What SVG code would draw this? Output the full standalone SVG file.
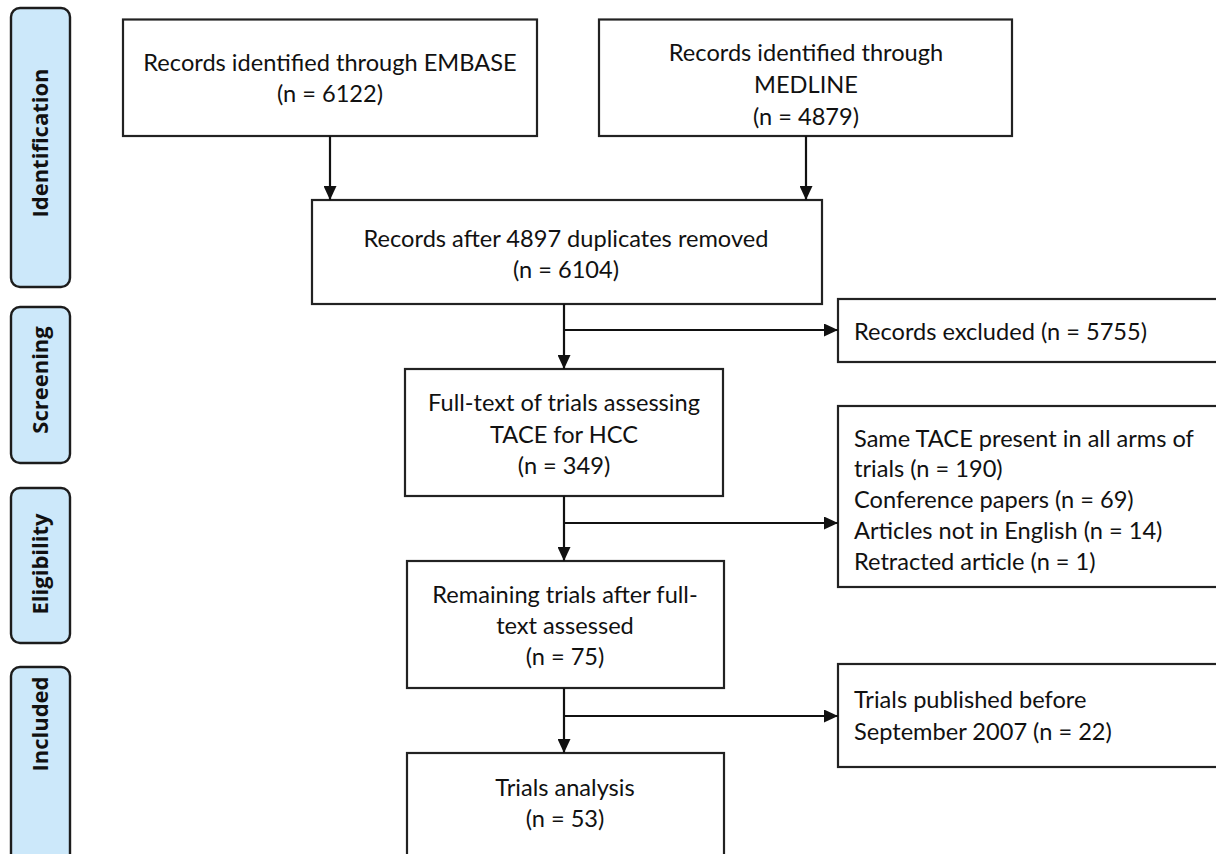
<svg xmlns="http://www.w3.org/2000/svg" width="1216" height="854" viewBox="0 0 1216 854">
<defs>
<style>
.phase rect{fill:#cce8fa;stroke:#1c1c1c;stroke-width:2.4}
.phase text{font-family:"Open Sans","DejaVu Sans",sans-serif;font-weight:bold;font-size:22px;fill:#111;text-anchor:middle}
.box rect{fill:#fff;stroke:#222;stroke-width:2.2}
.box text{font-family:Lato,"Liberation Sans",sans-serif;font-size:23.6px;fill:#111}
.c{text-anchor:middle}
#connectors path{fill:none;stroke:#111;stroke-width:2.2}
</style>
<marker id="ah" viewBox="0 0 14 13" refX="14" refY="6.5" markerWidth="14" markerHeight="13" markerUnits="userSpaceOnUse" orient="auto">
<path d="M0,0 L14,6.5 L0,13 Z" fill="#111"/>
</marker>
</defs>
<rect width="1216" height="854" fill="#fff"/>

<g id="phase-identification" class="phase">
<rect x="11" y="8" width="59" height="279" rx="9"/>
<text transform="translate(48,143) rotate(-90)">Identification</text>
</g>
<g id="phase-screening" class="phase">
<rect x="11" y="307" width="59" height="156" rx="9"/>
<text transform="translate(48,380) rotate(-90)">Screening</text>
</g>
<g id="phase-eligibility" class="phase">
<rect x="11" y="488" width="59" height="155" rx="9"/>
<text transform="translate(48,564) rotate(-90)">Eligibility</text>
</g>
<g id="phase-included" class="phase">
<rect x="11" y="667" width="59" height="220" rx="9"/>
<text transform="translate(48,724) rotate(-90)">Included</text>
</g>

<g id="embase" class="box">
<rect x="123" y="19.5" width="414" height="116.5"/>
<text class="c" x="330" y="71">Records identified through EMBASE</text>
<text class="c" x="330" y="102">(n = 6122)</text>
</g>
<g id="medline" class="box">
<rect x="599" y="19.5" width="413" height="116.5"/>
<text class="c" x="806" y="61">Records identified through</text>
<text class="c" x="806" y="93">MEDLINE</text>
<text class="c" x="806" y="125">(n = 4879)</text>
</g>
<g id="deduplicated" class="box">
<rect x="312" y="200" width="510" height="104"/>
<text class="c" x="566" y="247">Records after 4897 duplicates removed</text>
<text class="c" x="566" y="278">(n = 6104)</text>
</g>
<g id="excluded" class="box">
<rect x="838" y="299" width="400" height="63"/>
<text x="854" y="340">Records excluded (n = 5755)</text>
</g>
<g id="fulltext" class="box">
<rect x="405" y="369" width="318" height="127"/>
<text class="c" x="564" y="411">Full-text of trials assessing</text>
<text class="c" x="564" y="443">TACE for HCC</text>
<text class="c" x="564" y="474">(n = 349)</text>
</g>
<g id="fulltext-excluded" class="box">
<rect x="838" y="406" width="400" height="181"/>
<text x="854" y="447">Same TACE present in all arms of</text>
<text x="854" y="477">trials (n = 190)</text>
<text x="854" y="508">Conference papers (n = 69)</text>
<text x="854" y="539">Articles not in English (n = 14)</text>
<text x="854" y="570">Retracted article (n = 1)</text>
</g>
<g id="remaining" class="box">
<rect x="407" y="561" width="317" height="127"/>
<text class="c" x="565" y="603">Remaining trials after full-</text>
<text class="c" x="565" y="634">text assessed</text>
<text class="c" x="565" y="665">(n = 75)</text>
</g>
<g id="before-2007" class="box">
<rect x="838" y="664" width="400" height="103"/>
<text x="854" y="708">Trials published before</text>
<text x="854" y="740">September 2007 (n = 22)</text>
</g>
<g id="analysis" class="box">
<rect x="407" y="753" width="317" height="130"/>
<text class="c" x="565" y="796">Trials analysis</text>
<text class="c" x="565" y="827">(n = 53)</text>
</g>

<g id="connectors">
<path d="M330,136 V200" marker-end="url(#ah)"/>
<path d="M806,136 V200" marker-end="url(#ah)"/>
<path d="M564,304 V369" marker-end="url(#ah)"/>
<path d="M564,330 H838" marker-end="url(#ah)"/>
<path d="M564,496 V561" marker-end="url(#ah)"/>
<path d="M564,523 H838" marker-end="url(#ah)"/>
<path d="M564,688 V753" marker-end="url(#ah)"/>
<path d="M564,716 H838" marker-end="url(#ah)"/>
</g>
</svg>
